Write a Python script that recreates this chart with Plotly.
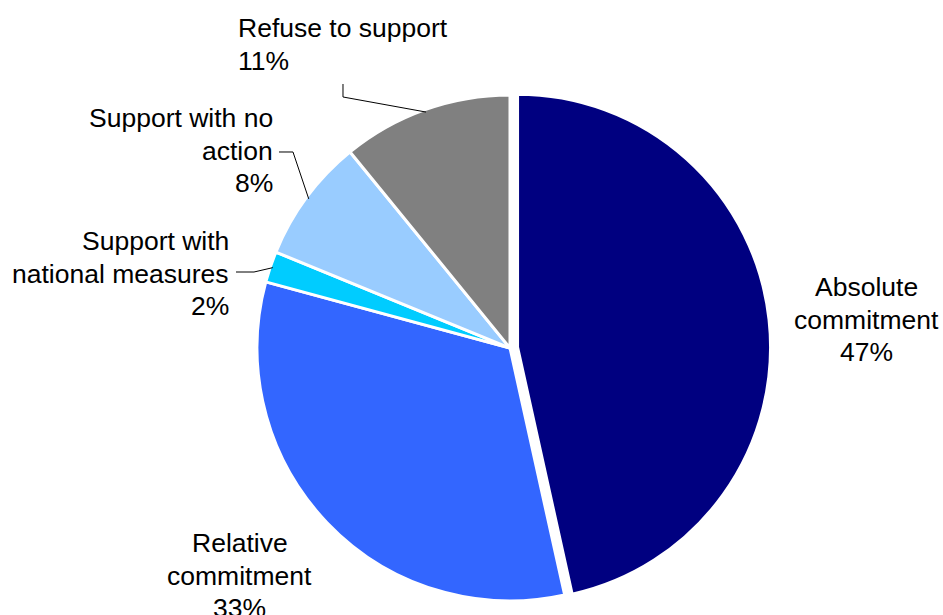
import math
import plotly.graph_objects as go

# ---- data ----
labels = ["Absolute commitment", "Relative commitment", "Support with national measures",
          "Support with no action", "Refuse to support"]
values = [47, 33, 2, 8, 11]
label_lines = [["Absolute", "commitment"], ["Relative", "commitment"],
               ["Support with", "national measures"], ["Support with no", "action"],
               ["Refuse to support"]]

# ---- styling ----
colors = ["#000080", "#3366FF", "#00CCFF", "#99CCFF", "#808080"]
pulls = [0.03, 0, 0, 0, 0]
W, H = 943, 615
CX, CY, R = 510, 348, 253
FONT = "Liberation Sans, Arial, sans-serif"
FS = 26.5
LINE_H = 32.5
# label anchor (pixel x, first line center y, anchor)
label_pos = [(866, 287, "center"), (240, 543, "center"), (231, 241, "right"),
             (275, 118, "right"), (236, 28, "left")]
# label-side leader points (pixels); pie end computed from data
leader_pts = [None, None, [(236, 272), (254, 272)], [(279, 152), (293, 152)],
              [(343, 84), (343, 97)]]

maxpull = max(pulls)
side = 2 * R * (1 + maxpull)
dom_x = [(CX - side / 2) / W, (CX + side / 2) / W]
dom_y = [1 - (CY + side / 2) / H, 1 - (CY - side / 2) / H]

fig = go.Figure(go.Pie(
    labels=labels, values=values, sort=False, direction="clockwise", rotation=0,
    marker=dict(colors=colors, line=dict(color="white", width=3)),
    pull=pulls, textinfo="none", hoverinfo="label+percent", showlegend=False,
    domain=dict(x=dom_x, y=dom_y),
))

def px(x, y):
    return x / W, 1 - y / H

annotations = []
shapes = []
total = sum(values)
cum = 0
for i, v in enumerate(values):
    lines = label_lines[i] + [f"{v}%"]
    ax, ay, anc = label_pos[i]
    for k, t in enumerate(lines):
        x, y = px(ax, ay + k * LINE_H)
        annotations.append(dict(text=t, x=x, y=y, xref="paper", yref="paper",
                                xanchor=anc, yanchor="middle", showarrow=False,
                                font=dict(family=FONT, size=FS, color="#000000")))
    theta = 2 * math.pi * (cum + v / 2) / total
    cum += v
    if leader_pts[i]:
        ex = CX + R * 0.99 * math.sin(theta)
        ey = CY - R * 0.99 * math.cos(theta)
        pts = leader_pts[i] + [(ex, ey)]
        path = ""
        for j, (x, y) in enumerate(pts):
            pxx, pyy = px(x, y)
            path += ("M" if j == 0 else " L") + f" {pxx:.5f} {pyy:.5f}"
        shapes.append(dict(type="path", path=path, xref="paper", yref="paper",
                           line=dict(color="#000000", width=1)))

fig.update_layout(
    width=W, height=H, margin=dict(l=0, r=0, t=0, b=0),
    paper_bgcolor="white", plot_bgcolor="white",
    annotations=annotations, shapes=shapes,
)

fig.write_html("out.html")
